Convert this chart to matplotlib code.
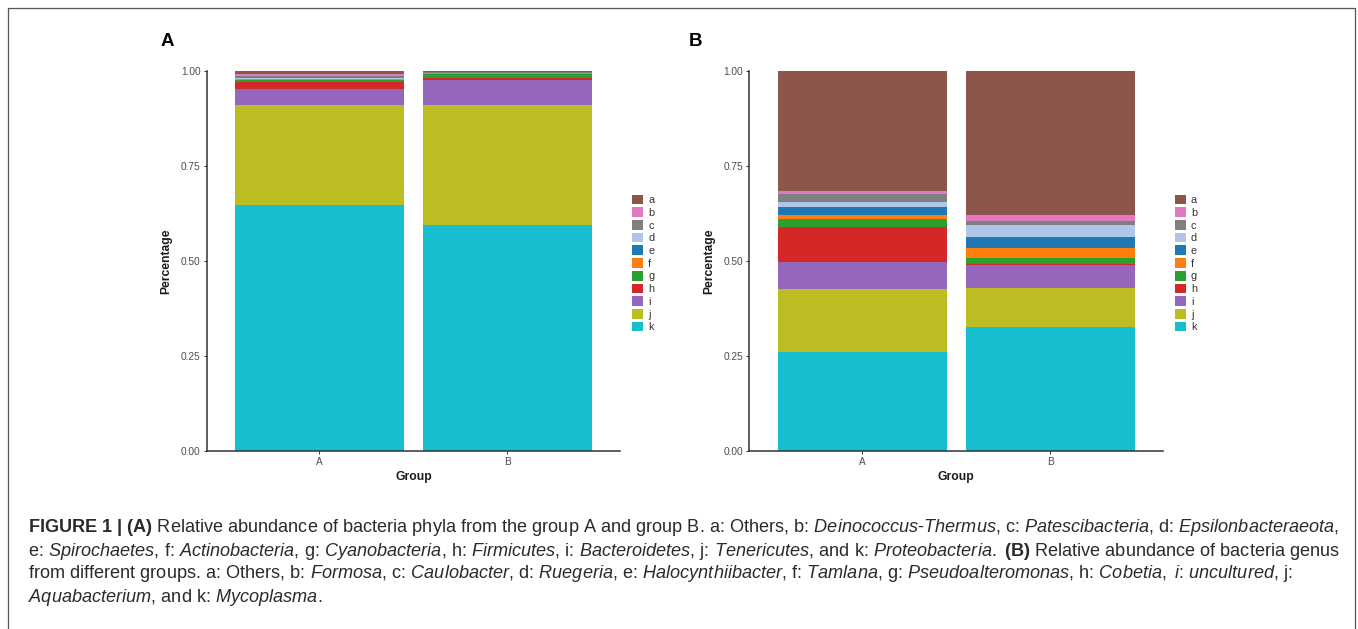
import matplotlib
matplotlib.use("Agg")
import matplotlib.pyplot as plt
from matplotlib import font_manager
from matplotlib.lines import Line2D
import numpy as np

groups = ["A", "B"]
taxa = ["a", "b", "c", "d", "e", "f", "g", "h", "i", "j", "k"]
colors = ["#8c564b", "#e377c2", "#7f7f7f", "#aec7e8", "#1f77b4", "#ff7f0e",
          "#2ca02c", "#d62728", "#9467bd", "#bcbd22", "#17becf"]

# relative abundance, order a..k, one list per group
phyla_A = [0.009, 0.003, 0.006, 0.002, 0.002, 0.002, 0.005, 0.019, 0.041, 0.264, 0.647]
phyla_B = [0.002, 0.001, 0.001, 0.001, 0.001, 0.001, 0.010, 0.007, 0.065, 0.316, 0.595]
genus_A = [0.315, 0.009, 0.020, 0.015, 0.019, 0.012, 0.021, 0.092, 0.071, 0.165, 0.261]
genus_B = [0.380, 0.014, 0.011, 0.031, 0.031, 0.024, 0.017, 0.002, 0.062, 0.102, 0.326]

caption_lines = [
    r"$\mathbf{FIGURE\ 1\ |\ (A)}$ Relative abundance of bacteria phyla from the group A and group B. a: Others, "
    r"b: $\mathit{Deinococcus}$-$\mathit{Thermus}$, c: $\mathit{Patescibacteria}$, d: $\mathit{Epsilonbacteraeota}$,",
    r"e: $\mathit{Spirochaetes}$, f: $\mathit{Actinobacteria}$, g: $\mathit{Cyanobacteria}$, h: $\mathit{Firmicutes}$, "
    r"i: $\mathit{Bacteroidetes}$, j: $\mathit{Tenericutes}$, and k: $\mathit{Proteobacteria.}$ $\mathbf{(B)}$ "
    r"Relative abundance of bacteria genus",
    r"from different groups. a: Others, b: $\mathit{Formosa}$, c: $\mathit{Caulobacter}$, d: $\mathit{Ruegeria}$, "
    r"e: $\mathit{Halocynthiibacter}$, f: $\mathit{Tamlana}$, g: $\mathit{Pseudoalteromonas}$, "
    r"h: $\mathit{Cobetia,}$ $\mathit{i}$: $\mathit{uncultured}$, j:",
    r"$\mathit{Aquabacterium}$, and k: $\mathit{Mycoplasma.}$",
]

chart_font = "Liberation Sans"
installed = {f.name for f in font_manager.fontManager.ttflist}
caption_font = "Liberation Sans Narrow" if "Liberation Sans Narrow" in installed else "Liberation Sans"

plt.rcParams["font.family"] = [chart_font, "DejaVu Sans"]
plt.rcParams["mathtext.fontset"] = "custom"
plt.rcParams["mathtext.rm"] = caption_font
plt.rcParams["mathtext.it"] = caption_font + ":italic"
plt.rcParams["mathtext.bf"] = caption_font + ":bold"


def stacked_panel(ax, values_A, values_B):
    x = np.arange(1, len(groups) + 1)
    data = np.array([values_A, values_B]).T
    bottom = np.zeros(len(groups))
    handles = []
    # k sits at the bottom, a on top
    for i in range(len(taxa) - 1, -1, -1):
        b = ax.bar(x, data[i], width=0.9, bottom=bottom, color=colors[i],
                   label=taxa[i], linewidth=0)
        bottom += data[i]
        handles.append(b)
    ax.set_xlim(0.4, 2.6)
    ax.set_ylim(0, 1)
    ax.set_xticks(x)
    ax.set_xticklabels(groups)
    ax.set_yticks([0, 0.25, 0.5, 0.75, 1.0])
    ax.set_yticklabels(["0.00", "0.25", "0.50", "0.75", "1.00"])
    for s in ["top", "right"]:
        ax.spines[s].set_visible(False)
    for s in ["left", "bottom"]:
        ax.spines[s].set_color("#333333")
        ax.spines[s].set_linewidth(1.1)
    ax.tick_params(length=2.5, width=0.7, color="#333333", labelsize=7.3,
                   labelcolor="#4d4d4d", pad=2)
    ax.set_xlabel("Group", fontsize=8.7, fontweight="bold", color="#1a1a1a", labelpad=3)
    ax.set_ylabel("Percentage", fontsize=8.7, fontweight="bold", color="#1a1a1a", labelpad=6)
    leg = ax.legend(handles[::-1], taxa, loc="upper left", bbox_to_anchor=(1.03, 0.675),
                    frameon=False, fontsize=7.8, handlelength=0.95, handleheight=1.0,
                    labelspacing=0.2, handletextpad=0.5, borderpad=0, borderaxespad=0)
    for t in leg.get_texts():
        t.set_color("#333333")


fig = plt.figure(figsize=(13.58, 6.29), dpi=100)

ax1 = fig.add_axes([0.1522, 0.283, 0.3044, 0.604])
stacked_panel(ax1, phyla_A, phyla_B)
ax2 = fig.add_axes([0.5519, 0.283, 0.3044, 0.604])
stacked_panel(ax2, genus_A, genus_B)

fig.text(167 / 1358, 1 - 42 / 629, "A", fontsize=13.5, fontweight="bold", ha="center", va="center")
fig.text(695 / 1358, 1 - 42 / 629, "B", fontsize=13.5, fontweight="bold", ha="center", va="center")

# outer frame, open at the bottom like the cropped page
frame_x = [8 / 1358, 8 / 1358, 1355 / 1358, 1355 / 1358]
frame_y = [0, 1 - 8 / 629, 1 - 8 / 629, 0]
fig.add_artist(Line2D(frame_x, frame_y, transform=fig.transFigure, color="#555555", linewidth=0.9))

# caption, sized so the first line spans the page width
renderer = fig.canvas.get_renderer()
cap_size = 10.5
texts = []
y_lines = [528, 551, 574, 597]
for line, yp in zip(caption_lines, y_lines):
    t = fig.text(28 / 1358, 1 - yp / 629, line, fontsize=cap_size, family=caption_font,
                 color="#2b2b2b", ha="left", va="center")
    texts.append(t)
w = texts[0].get_window_extent(renderer).width
new_size = cap_size * (1343 - 28) / w
for t in texts:
    t.set_fontsize(new_size)

fig.savefig("out.png", dpi=100)
